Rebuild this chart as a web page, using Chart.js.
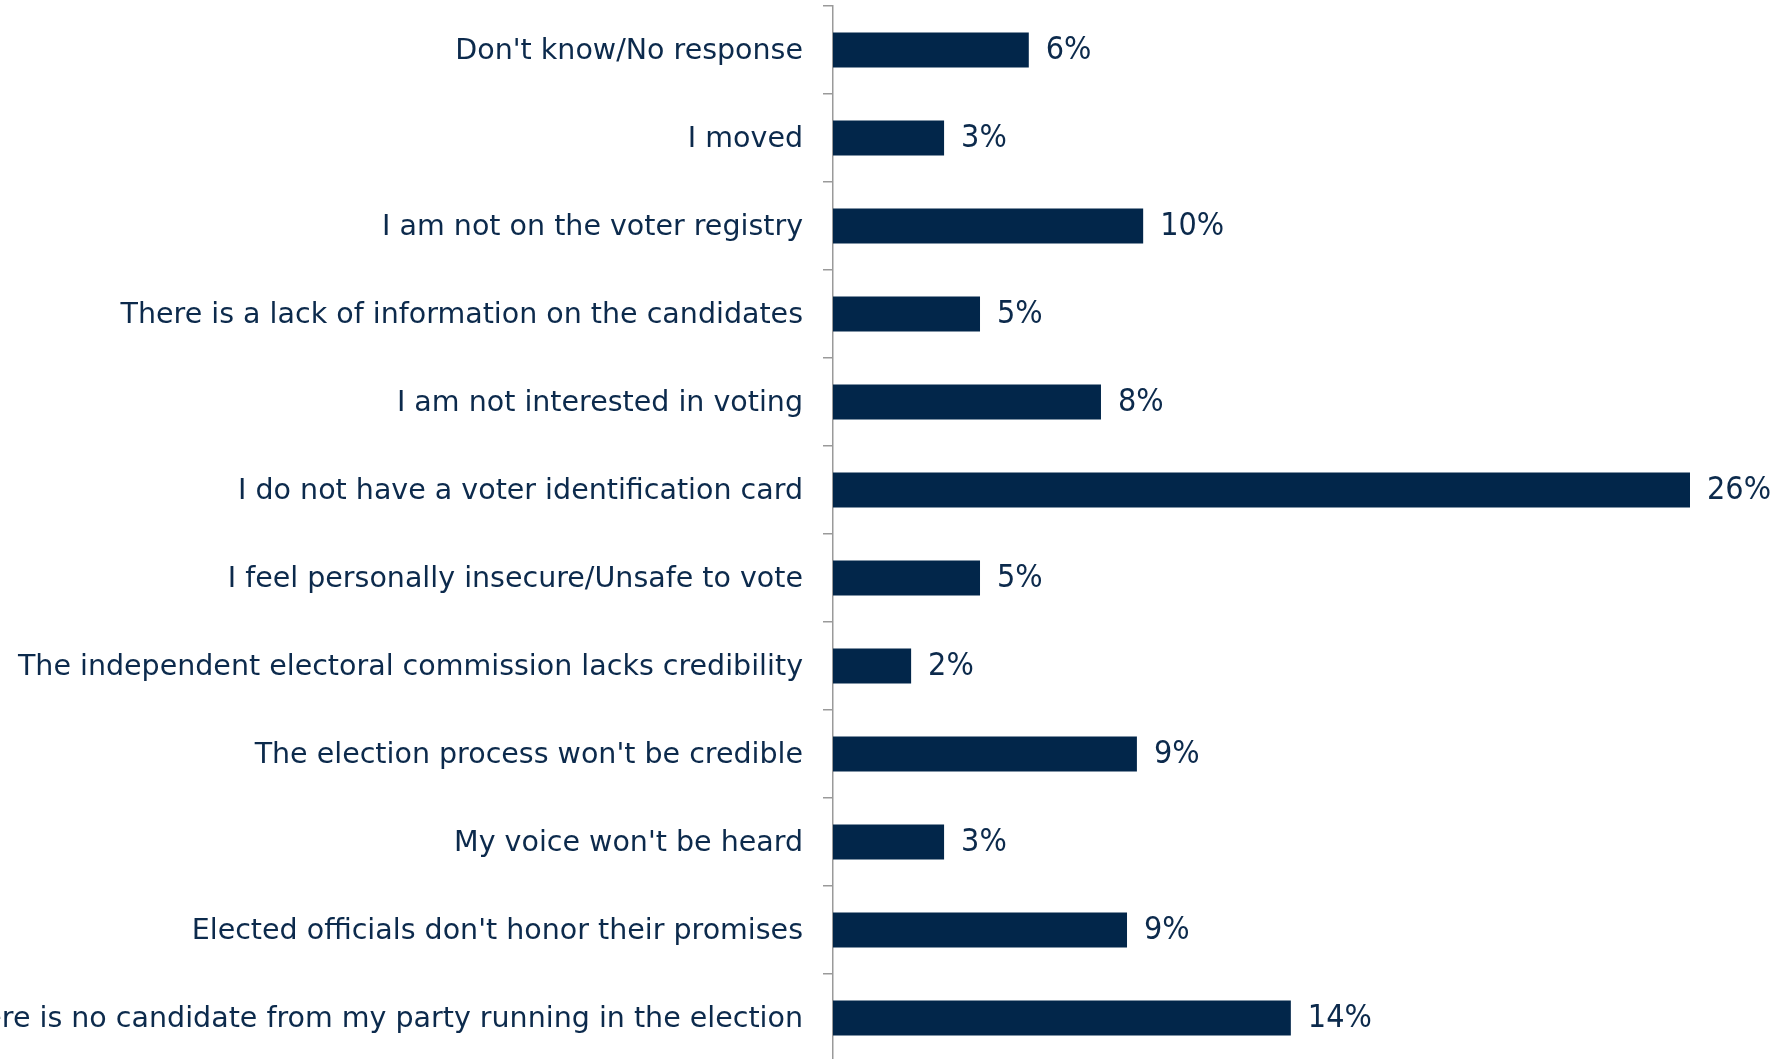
<!DOCTYPE html>
<html>
<head>
<meta charset="utf-8">
<script src="https://cdn.jsdelivr.net/npm/chart.js@4/dist/chart.umd.min.js"></script>
<style>
  html, body { margin: 0; padding: 0; background: #ffffff; overflow: hidden; }
  #wrap { position: absolute; left: 0; top: 0; width: 1779px; height: 1062px; }
</style>
</head>
<body>
<div id="wrap"><canvas id="c"></canvas></div>
<script>
const categories = [
  "Don't know/No response",
  "I moved",
  "I am not on the voter registry",
  "There is a lack of information on the candidates",
  "I am not interested in voting",
  "I do not have a voter identification card",
  "I feel personally insecure/Unsafe to vote",
  "The independent electoral commission lacks credibility",
  "The election process won't be credible",
  "My voice won't be heard",
  "Elected officials don't honor their promises",
  "There is no candidate from my party running in the election"
];
const values = [5.94, 3.37, 9.41, 4.46, 8.13, 26.0, 4.46, 2.37, 9.22, 3.37, 8.92, 13.89];
const valueLabels = ["6%", "3%", "10%", "5%", "8%", "26%", "5%", "2%", "9%", "3%", "9%", "14%"];

const BAR_COLOR = "#02264a";
const TEXT_COLOR = "#0c2a4c";
const FONT = "'DejaVu Sans', sans-serif";
const VALUE_FONT = "'Liberation Sans Narrow', 'DejaVu Sans Condensed', sans-serif";

const valueLabelPlugin = {
  id: 'valueLabels',
  afterDatasetsDraw(chart) {
    const ctx = chart.ctx;
    const meta = chart.getDatasetMeta(0);
    ctx.save();
    ctx.fillStyle = TEXT_COLOR;
    ctx.font = "32px " + VALUE_FONT;
    ctx.textAlign = 'left';
    ctx.textBaseline = 'middle';
    meta.data.forEach((bar, i) => {
      ctx.fillText(valueLabels[i], bar.x + 17, bar.y + 1);
    });
    ctx.restore();
  }
};

new Chart(document.getElementById('c'), {
  type: 'bar',
  data: {
    labels: categories,
    datasets: [{
      data: values,
      backgroundColor: BAR_COLOR,
      borderWidth: 0,
      barPercentage: 0.395,
      categoryPercentage: 1.0
    }]
  },
  options: {
    indexAxis: 'y',
    responsive: true,
    maintainAspectRatio: false,
    animation: false,
    layout: { padding: { top: 6, right: 0, bottom: 0, left: 0 } },
    plugins: { legend: { display: false }, tooltip: { enabled: false } },
    scales: {
      x: { display: false, min: 0, max: 28.7 },
      y: {
        offset: true,
        afterFit(scale) {
          scale.width = 833;
          scale.paddingTop = 0;
          scale.paddingBottom = 0;
        },
        grid: {
          offset: true,
          drawOnChartArea: false,
          drawTicks: true,
          tickLength: 10,
          color: '#9a9a9a',
          lineWidth: 1.5
        },
        border: { display: true, color: '#9a9a9a', width: 1.5 },
        ticks: {
          padding: 20,
          labelOffset: 2,
          color: TEXT_COLOR,
          font: { family: FONT, size: 28.5 },
          autoSkip: false
        }
      }
    }
  },
  plugins: [valueLabelPlugin]
});
</script>
</body>
</html>
